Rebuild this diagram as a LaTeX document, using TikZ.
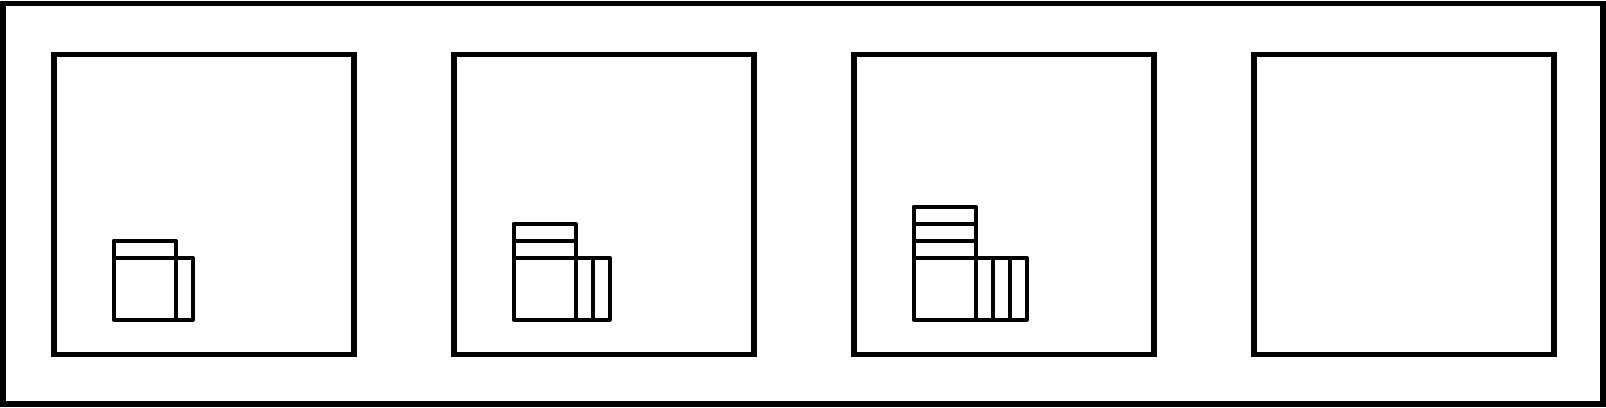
\documentclass[tikz,border=0pt]{standalone}
\usepackage{tikz}
\usetikzlibrary{positioning}

\begin{document}
\begin{tikzpicture}[node distance=4cm,
    panel/.style={draw,line width=1.7pt,minimum size=3cm,inner sep=0pt,outer sep=0pt},
    glyph/.style={draw,line width=1.15pt,line join=round}]
  \useasboundingbox (0,0) rectangle (16.06,4.07);
  \draw[line width=1.7pt] (0.03,0.03) rectangle (16.03,4.035);

  \node[panel] (First)                      at (2.04,2.025) {};
  \node[panel] (Second) [right of=First]  {};
  \node[panel] (Third)  [right of=Second] {};
  \node[panel] (Fourth) [right of=Third]  {};

  % stacks of bars, one more per panel
  \foreach \n/\p in {1/First,2/Second,3/Third} {
    \begin{scope}[shift={(\p.south west)},shift={(0.597,0.347)}]
      \draw[glyph] (0,0) rectangle (0.62,0.62);
      \foreach \i in {1,...,\n} {
        \draw[glyph] (0,{0.62+0.17*(\i-1)}) rectangle (0.62,{0.62+0.17*\i});
        \draw[glyph] ({0.62+0.17*(\i-1)},0) rectangle ({0.62+0.17*\i},0.62);
      }
    \end{scope}
  }
\end{tikzpicture}
\end{document}
